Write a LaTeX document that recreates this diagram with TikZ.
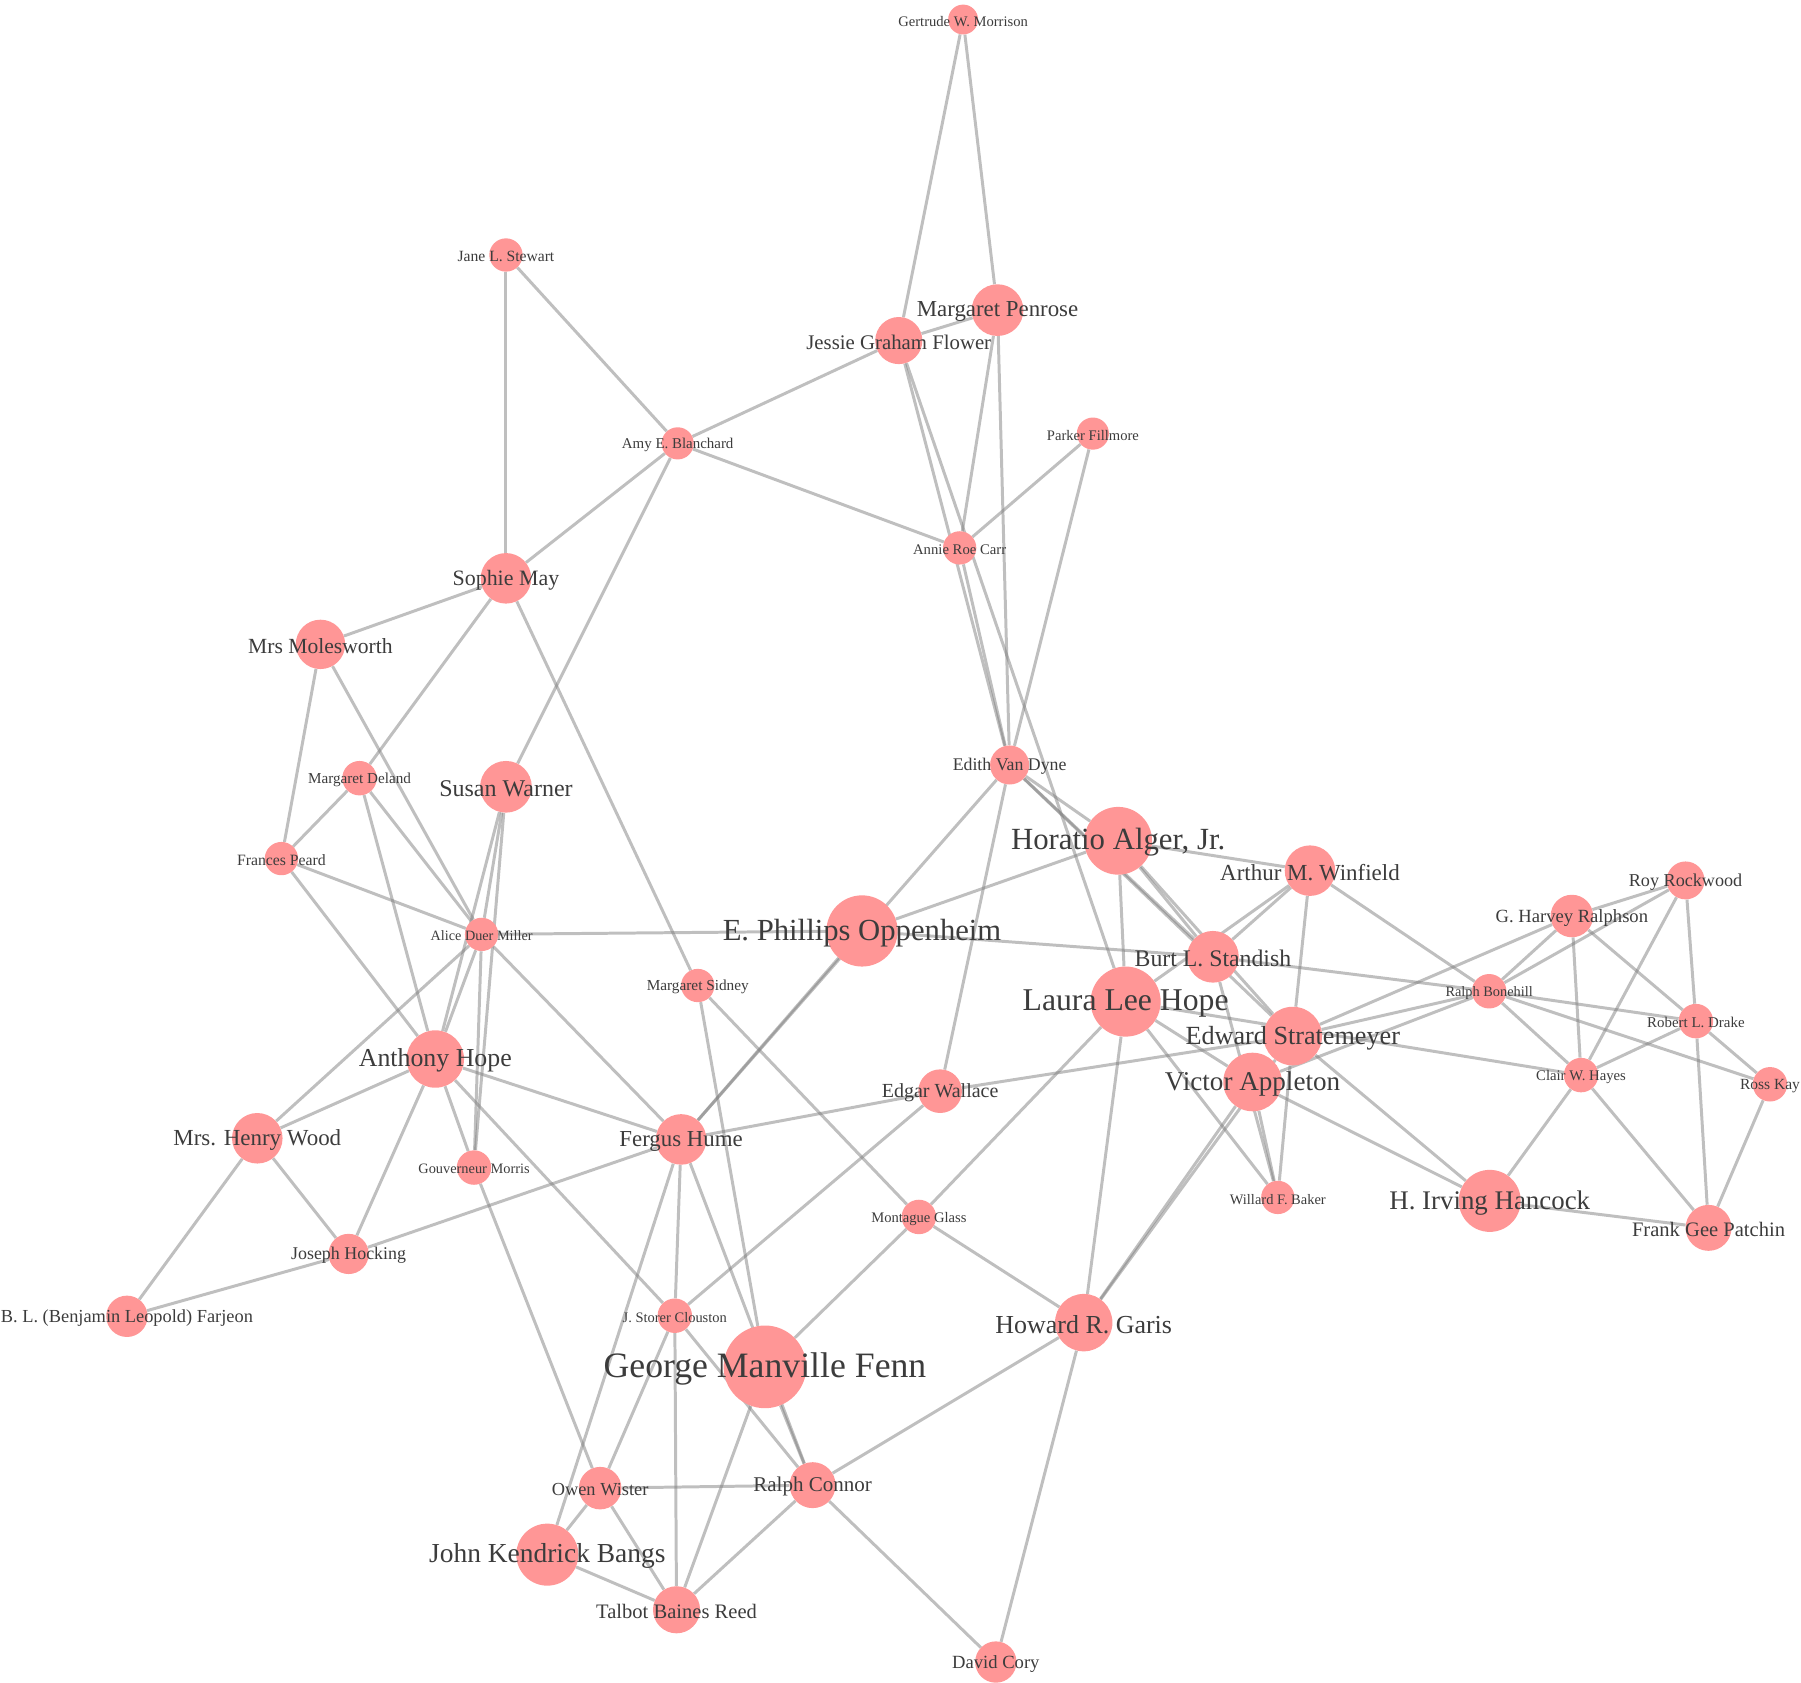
\documentclass[tikz,border=0pt]{standalone}
\usepackage{fontspec}
\setmainfont{Liberation Serif}
\definecolor{nodepink}{RGB}{255,150,150}
\definecolor{namegray}{RGB}{60,60,60}
\pgfdeclarelayer{edges}
\pgfsetlayers{edges,main}
\begin{document}
\begin{tikzpicture}[x=1pt, y=-1pt,
		person/.style={circle, fill=nodepink, draw=none, inner sep=0pt, minimum size=#1pt},
		link/.style={draw=black!50, opacity=0.5, line width=2.6pt},
		tsize/.style={font=\fontsize{#1}{#1}\selectfont},
		authorname/.style={text=namegray, inner sep=0pt, yshift=-1.5pt}]
		\useasboundingbox (0,-2) rectangle (1568,1462.4);
		% authors
		\node [person=26] (gertrude) at (838.5, 15) {};
		\node [person=29] (stewart) at (440.5, 220) {};
		\node [person=45] (penrose) at (868.5, 268) {};
		\node [person=41] (flower) at (782.5, 294.5) {};
		\node [person=28] (blanchard) at (590, 384) {};
		\node [person=28] (fillmore) at (951.5, 375.5) {};
		\node [person=29] (carr) at (835.5, 475) {};
		\node [person=44] (sophie) at (440.5, 501.5) {};
		\node [person=43] (molesworth) at (279, 559) {};
		\node [person=30] (deland) at (313, 675.5) {};
		\node [person=45] (warner) at (440.5, 683) {};
		\node [person=34] (vandyne) at (879, 664) {};
		\node [person=29] (peard) at (245, 745.5) {};
		\node [person=59] (alger) at (973.5, 730) {};
		\node [person=44] (winfield) at (1140.5, 756) {};
		\node [person=33] (rockwood) at (1467.5, 764.5) {};
		\node [person=37] (ralphson) at (1368.5, 795.5) {};
		\node [person=29] (miller) at (419.3, 811.5) {};
		\node [person=62] (oppenheim) at (750.5, 808.5) {};
		\node [person=45] (standish) at (1056, 831) {};
		\node [person=29] (sidney) at (607.5, 856) {};
		\node [person=30] (bonehill) at (1296.5, 861) {};
		\node [person=61] (hope) at (980, 870) {};
		\node [person=30] (drake) at (1476.5, 887) {};
		\node [person=51] (stratemeyer) at (1125.5, 900) {};
		\node [person=50] (ahope) at (379, 920) {};
		\node [person=30] (hayes) at (1376.5, 934) {};
		\node [person=30] (kay) at (1541, 942) {};
		\node [person=51] (appleton) at (1090.5, 940) {};
		\node [person=38] (wallace) at (818.5, 948) {};
		\node [person=44] (wood) at (224, 989) {};
		\node [person=44] (hume) at (593, 990) {};
		\node [person=30] (morris) at (412.7, 1014.5) {};
		\node [person=29] (baker) at (1112.5, 1040.5) {};
		\node [person=54] (hancock) at (1297, 1043.5) {};
		\node [person=30] (glass) at (800, 1057.5) {};
		\node [person=40] (patchin) at (1487.5, 1067) {};
		\node [person=35] (hocking) at (303.5, 1089.7) {};
		\node [person=36] (farjeon) at (110.5, 1144) {};
		\node [person=30] (clouston) at (587.5, 1143.5) {};
		\node [person=50] (garis) at (943.5, 1149.5) {};
		\node [person=72] (fenn) at (666, 1188) {};
		\node [person=37] (wister) at (522.5, 1293.6) {};
		\node [person=40] (connor) at (707.5, 1291) {};
		\node [person=54] (bangs) at (476.5, 1351.5) {};
		\node [person=41] (reed) at (589, 1399.5) {};
		\node [person=36] (cory) at (867, 1445) {};
		% co-author links
		\begin{pgfonlayer}{edges}
		\draw [link] (stewart) -- (sophie);
		\draw [link] (stewart) -- (blanchard);
		\draw [link] (blanchard) -- (flower);
		\draw [link] (blanchard) -- (carr);
		\draw [link] (blanchard) -- (sophie);
		\draw [link] (blanchard) -- (warner);
		\draw [link] (gertrude) -- (flower);
		\draw [link] (gertrude) -- (penrose);
		\draw [link] (penrose) -- (flower);
		\draw [link] (penrose) -- (carr);
		\draw [link] (penrose) -- (vandyne);
		\draw [link] (flower) -- (vandyne);
		\draw [link] (flower) -- (hope);
		\draw [link] (carr) -- (vandyne);
		\draw [link] (fillmore) -- (carr);
		\draw [link] (fillmore) -- (vandyne);
		\draw [link] (sophie) -- (molesworth);
		\draw [link] (sophie) -- (deland);
		\draw [link] (sophie) -- (sidney);
		\draw [link] (molesworth) -- (peard);
		\draw [link] (molesworth) -- (miller);
		\draw [link] (deland) -- (peard);
		\draw [link] (deland) -- (ahope);
		\draw [link] (deland) -- (miller);
		\draw [link] (warner) -- (miller);
		\draw [link] (warner) -- (ahope);
		\draw [link] (warner) -- (morris);
		\draw [link] (peard) -- (miller);
		\draw [link] (peard) -- (ahope);
		\draw [link] (miller) -- (oppenheim);
		\draw [link] (miller) -- (wood);
		\draw [link] (miller) -- (ahope);
		\draw [link] (miller) -- (hume);
		\draw [link] (miller) -- (morris);
		\draw [link] (vandyne) -- (hume);
		\draw [link] (vandyne) -- (wallace);
		\draw [link] (vandyne) -- (alger);
		\draw [link] (vandyne) -- (standish);
		\draw [link] (vandyne) -- (stratemeyer);
		\draw [link] (alger) -- (winfield);
		\draw [link] (alger) -- (oppenheim);
		\draw [link] (alger) -- (hope);
		\draw [link] (alger) -- (standish);
		\draw [link] (alger) -- (stratemeyer);
		\draw [link] (oppenheim) -- (standish);
		\draw [link] (oppenheim) -- (hume);
		\draw [link] (standish) -- (bonehill);
		\draw [link] (standish) -- (winfield);
		\draw [link] (standish) -- (baker);
		\draw [link] (hope) -- (winfield);
		\draw [link] (hope) -- (hayes);
		\draw [link] (hope) -- (appleton);
		\draw [link] (hope) -- (baker);
		\draw [link] (hope) -- (garis);
		\draw [link] (hope) -- (glass);
		\draw [link] (winfield) -- (stratemeyer);
		\draw [link] (winfield) -- (bonehill);
		\draw [link] (ralphson) -- (rockwood);
		\draw [link] (ralphson) -- (stratemeyer);
		\draw [link] (ralphson) -- (bonehill);
		\draw [link] (ralphson) -- (hayes);
		\draw [link] (ralphson) -- (drake);
		\draw [link] (rockwood) -- (bonehill);
		\draw [link] (rockwood) -- (hayes);
		\draw [link] (rockwood) -- (drake);
		\draw [link] (bonehill) -- (stratemeyer);
		\draw [link] (bonehill) -- (appleton);
		\draw [link] (bonehill) -- (drake);
		\draw [link] (bonehill) -- (hayes);
		\draw [link] (bonehill) -- (kay);
		\draw [link] (drake) -- (hayes);
		\draw [link] (drake) -- (kay);
		\draw [link] (drake) -- (patchin);
		\draw [link] (kay) -- (patchin);
		\draw [link] (hayes) -- (patchin);
		\draw [link] (hayes) -- (hancock);
		\draw [link] (hancock) -- (patchin);
		\draw [link] (hancock) -- (appleton);
		\draw [link] (hancock) -- (stratemeyer);
		\draw [link] (appleton) -- (baker);
		\draw [link] (stratemeyer) -- (baker);
		\draw [link] (appleton) -- (garis);
		\draw [link] (stratemeyer) -- (garis);
		\draw [link] (wallace) -- (stratemeyer);
		\draw [link] (hume) -- (wallace);
		\draw [link] (clouston) -- (wallace);
		\draw [link] (sidney) -- (fenn);
		\draw [link] (sidney) -- (glass);
		\draw [link] (ahope) -- (wood);
		\draw [link] (ahope) -- (hume);
		\draw [link] (ahope) -- (hocking);
		\draw [link] (ahope) -- (morris);
		\draw [link] (ahope) -- (clouston);
		\draw [link] (wood) -- (hocking);
		\draw [link] (wood) -- (farjeon);
		\draw [link] (hocking) -- (farjeon);
		\draw [link] (hocking) -- (hume);
		\draw [link] (morris) -- (wister);
		\draw [link] (hume) -- (clouston);
		\draw [link] (hume) -- (connor);
		\draw [link] (fenn) -- (connor);
		\draw [link] (hume) -- (bangs);
		\draw [link] (clouston) -- (wister);
		\draw [link] (clouston) -- (reed);
		\draw [link] (clouston) -- (connor);
		\draw [link] (fenn) -- (glass);
		\draw [link] (fenn) -- (reed);
		\draw [link] (wister) -- (connor);
		\draw [link] (wister) -- (bangs);
		\draw [link] (wister) -- (reed);
		\draw [link] (bangs) -- (reed);
		\draw [link] (connor) -- (reed);
		\draw [link] (connor) -- (cory);
		\draw [link] (connor) -- (garis);
		\draw [link] (garis) -- (glass);
		\draw [link] (garis) -- (cory);
		\end{pgfonlayer}
		% names
		\node [authorname, tsize=12.7] (gertrude-t) at (gertrude) {Gertrude W. Morrison};
		\node [authorname, tsize=13.6] (stewart-t) at (stewart) {Jane L. Stewart};
		\node [authorname, tsize=19.9] (penrose-t) at (penrose) {Margaret Penrose};
		\node [authorname, tsize=18.1] (flower-t) at (flower) {Jessie Graham Flower};
		\node [authorname, tsize=13] (blanchard-t) at (blanchard) {Amy E. Blanchard};
		\node [authorname, tsize=12.7] (fillmore-t) at (fillmore) {Parker Fillmore};
		\node [authorname, tsize=12.8] (carr-t) at (carr) {Annie Roe Carr};
		\node [authorname, tsize=19.1] (sophie-t) at (sophie) {Sophie May};
		\node [authorname, tsize=18.8] (molesworth-t) at (molesworth) {Mrs Molesworth};
		\node [authorname, tsize=13.2] (deland-t) at (deland) {Margaret Deland};
		\node [authorname, tsize=20.9] (warner-t) at (warner) {Susan Warner};
		\node [authorname, tsize=15.5] (vandyne-t) at (vandyne) {Edith Van Dyne};
		\node [authorname, tsize=13.7] (peard-t) at (peard) {Frances Peard};
		\node [authorname, tsize=26.8] (alger-t) at (alger) {Horatio Alger, Jr.};
		\node [authorname, tsize=20] (winfield-t) at (winfield) {Arthur M. Winfield};
		\node [authorname, tsize=15.8] (rockwood-t) at (rockwood) {Roy Rockwood};
		\node [authorname, tsize=16.2] (ralphson-t) at (ralphson) {G. Harvey Ralphson};
		\node [authorname, tsize=12.4] (miller-t) at (miller) {Alice Duer Miller};
		\node [authorname, tsize=26.7] (oppenheim-t) at (oppenheim) {E. Phillips Oppenheim};
		\node [authorname, tsize=20.7] (standish-t) at (standish) {Burt L. Standish};
		\node [authorname, tsize=13.3] (sidney-t) at (sidney) {Margaret Sidney};
		\node [authorname, tsize=12.5] (bonehill-t) at (bonehill) {Ralph Bonehill};
		\node [authorname, tsize=27.6] (hope-t) at (hope) {Laura Lee Hope};
		\node [authorname, tsize=13] (drake-t) at (drake) {Robert L. Drake};
		\node [authorname, tsize=22.8] (stratemeyer-t) at (stratemeyer) {Edward Stratemeyer};
		\node [authorname, tsize=22.5] (ahope-t) at (ahope) {Anthony Hope};
		\node [authorname, tsize=12.8] (hayes-t) at (hayes) {Clair W. Hayes};
		\node [authorname, tsize=13.5] (kay-t) at (kay) {Ross Kay};
		\node [authorname, tsize=23.6] (appleton-t) at (appleton) {Victor Appleton};
		\node [authorname, tsize=17.4] (wallace-t) at (wallace) {Edgar Wallace};
		\node [authorname, tsize=20] (wood-t) at (wood) {Mrs. Henry Wood};
		\node [authorname, tsize=19.9] (hume-t) at (hume) {Fergus Hume};
		\node [authorname, tsize=12.5] (morris-t) at (morris) {Gouverneur Morris};
		\node [authorname, tsize=12.6] (baker-t) at (baker) {Willard F. Baker};
		\node [authorname, tsize=23.4] (hancock-t) at (hancock) {H. Irving Hancock};
		\node [authorname, tsize=12.7] (glass-t) at (glass) {Montague Glass};
		\node [authorname, tsize=17.9] (patchin-t) at (patchin) {Frank Gee Patchin};
		\node [authorname, tsize=15.6] (hocking-t) at (hocking) {Joseph Hocking};
		\node [authorname, tsize=16] (farjeon-t) at (farjeon) {B. L. (Benjamin Leopold) Farjeon};
		\node [authorname, tsize=12.6] (clouston-t) at (clouston) {J. Storer Clouston};
		\node [authorname, tsize=22.6] (garis-t) at (garis) {Howard R. Garis};
		\node [authorname, tsize=31.1] (fenn-t) at (fenn) {George Manville Fenn};
		\node [authorname, tsize=16] (wister-t) at (wister) {Owen Wister};
		\node [authorname, tsize=18.3] (connor-t) at (connor) {Ralph Connor};
		\node [authorname, tsize=23.9] (bangs-t) at (bangs) {John Kendrick Bangs};
		\node [authorname, tsize=17.9] (reed-t) at (reed) {Talbot Baines Reed};
		\node [authorname, tsize=16.2] (cory-t) at (cory) {David Cory};
\end{tikzpicture}
\end{document}
